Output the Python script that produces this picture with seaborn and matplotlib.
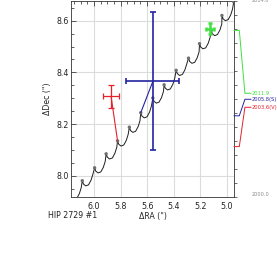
import numpy as np
import pandas as pd
import matplotlib
matplotlib.use("Agg")
import matplotlib.pyplot as plt
import matplotlib.transforms as mtransforms
from matplotlib.ticker import MultipleLocator, FixedLocator
import seaborn as sns

# ---------------- data ----------------
# predicted astrometric track (parallax + proper motion), ΔRA / ΔDec in arcsec
track_ra = [6.151, 6.130, 6.111, 6.097,
            6.089, 6.080, 6.063, 6.042, 6.023, 6.009,
            5.996, 5.987, 5.970, 5.949, 5.930, 5.916,
            5.909, 5.900, 5.883, 5.862, 5.843, 5.829,
            5.823, 5.814, 5.797, 5.776, 5.757, 5.743,
            5.734, 5.725, 5.708, 5.687, 5.668, 5.654,
            5.648, 5.639, 5.622, 5.601, 5.582, 5.568,
            5.557, 5.548, 5.531, 5.510, 5.491, 5.477,
            5.472, 5.463, 5.446, 5.425, 5.406, 5.392,
            5.381, 5.372, 5.355, 5.334, 5.315, 5.301,
            5.288, 5.279, 5.262, 5.241, 5.222, 5.208,
            5.205, 5.196, 5.179, 5.158, 5.139, 5.125,
            5.117, 5.108, 5.091, 5.070, 5.051, 5.037,
            5.036, 5.027, 5.010, 4.989, 4.970, 4.956,
            4.947, 4.938]
track_dec = [7.909, 7.913, 7.931, 7.954,
             7.981, 7.968, 7.961, 7.965, 7.983, 8.006,
             8.031, 8.018, 8.011, 8.015, 8.033, 8.056,
             8.085, 8.072, 8.065, 8.069, 8.087, 8.110,
             8.135, 8.122, 8.115, 8.119, 8.137, 8.160,
             8.188, 8.175, 8.168, 8.172, 8.190, 8.213,
             8.244, 8.231, 8.224, 8.228, 8.246, 8.269,
             8.301, 8.288, 8.281, 8.285, 8.303, 8.326,
             8.352, 8.339, 8.332, 8.336, 8.354, 8.377,
             8.408, 8.395, 8.388, 8.392, 8.410, 8.433,
             8.455, 8.442, 8.435, 8.439, 8.457, 8.480,
             8.511, 8.498, 8.491, 8.495, 8.513, 8.536,
             8.562, 8.549, 8.542, 8.546, 8.564, 8.587,
             8.620, 8.607, 8.600, 8.604, 8.622, 8.645,
             8.673, 8.660]

# yearly marks on the track
mark_ra = [6.089, 5.996, 5.909, 5.823, 5.734, 5.648, 5.557, 5.472,
           5.381, 5.288, 5.205, 5.117, 5.036, 4.947]
mark_dec = [7.981, 8.031, 8.085, 8.135, 8.188, 8.244, 8.301, 8.352,
            8.408, 8.455, 8.511, 8.562, 8.620, 8.673]

# measurements
epochs = [2003.6, 2005.8, 2011.9]
epoch_labels = ["2003.6(V)", "2005.8(S)", "2011.9"]
meas_ra = [5.872, 5.557, 5.125]
meas_dec = [8.308, 8.365, 8.569]
meas_ra_err = [0.060, 0.201, 0.030]
meas_dec_err = [0.044, 0.267, 0.020]
# predicted positions at the measurement epochs
model_ra = [5.823, 5.648, 5.117]
model_dec = [8.135, 8.244, 8.562]

x_ticks = [6.0, 5.8, 5.6, 5.4, 5.2, 5.0]
y_ticks = [8.0, 8.2, 8.4, 8.6]
time_range = [2000.0, 2014.0]

# ---------------- style ----------------
colors = ["#e3222c", "#2424a2", "#3fe03f"]
elw = [0.9, 1.2, 1.8]
caps = [2.2, 2.4, 1.5]
label_years = [2006.41, 2006.98, 2007.41]   # label placement on time scale

sns.set_style("white")
plt.rcParams["font.family"] = ["DejaVu Sans"]

W, H = 277, 261
fig = plt.figure(figsize=(W / 100, H / 100), dpi=100)
ax = fig.add_axes([71 / W, 1 - 197 / H, 163 / W, 196 / H])
ax.set_facecolor("white")

# grid
ax.set_xlim(6.174, 4.945)
ax.set_ylim(7.918, 8.676)
ax.xaxis.set_major_locator(FixedLocator(x_ticks))
ax.yaxis.set_major_locator(FixedLocator(y_ticks))
ax.xaxis.set_minor_locator(MultipleLocator(0.05))
ax.yaxis.set_minor_locator(MultipleLocator(0.05))
ax.set_xticklabels([f"{v:.1f}" for v in x_ticks])
ax.set_yticklabels([f"{v:.1f}" for v in y_ticks])
ax.grid(True, which="major", color="#dcdcdc", lw=0.8)
ax.set_axisbelow(True)

# track
df_track = pd.DataFrame({"ra": track_ra, "dec": track_dec})
sns.lineplot(data=df_track, x="ra", y="dec", sort=False, estimator=None,
             color="#1e1e1e", lw=0.7, ax=ax, zorder=3)
df_marks = pd.DataFrame({"ra": mark_ra, "dec": mark_dec})
sns.scatterplot(data=df_marks, x="ra", y="dec", color="#707070", s=6,
                edgecolor="none", ax=ax, zorder=4)

# measurement -> model connectors and error bars
for i in range(len(epochs)):
    ax.plot([meas_ra[i], model_ra[i]], [meas_dec[i], model_dec[i]],
            color=colors[i], lw=0.8, zorder=5)
    ax.errorbar(meas_ra[i], meas_dec[i], xerr=meas_ra_err[i],
                yerr=meas_dec_err[i], fmt="none", ecolor=colors[i],
                elinewidth=elw[i], capsize=caps[i], capthick=elw[i],
                zorder=6)

ax.set_xlabel("")
ax.set_ylabel("")
ax.tick_params(which="both", direction="in", top=True, right=False,
               width=0.5, colors="#222222", labelsize=5.7)
ax.tick_params(which="major", length=3.5)
ax.tick_params(which="minor", length=1.8)
ax.tick_params(axis="x", pad=3.5)
ax.tick_params(axis="y", pad=1.8)
for sp in ax.spines.values():
    sp.set_color("#333333")
    sp.set_linewidth(0.6)

ax.set_xlabel('ΔRA (")', fontsize=5.7)
ax.xaxis.set_label_coords(0.5, -0.097)
ax.xaxis.label.set_verticalalignment("center")
ax.set_ylabel('ΔDec (")', fontsize=5.7)
ax.yaxis.set_label_coords(-0.147, 0.5)
ax.yaxis.label.set_verticalalignment("center")

fig.text(48 / W, 1 - 215 / H, "HIP 2729 #1", fontsize=5.7, va="center",
         ha="left", color="#222222")

# time scale on the right
ax2 = ax.twinx()
ax2.set_ylim(*time_range)
ax2.yaxis.set_major_locator(MultipleLocator(1))
ax2.tick_params(axis="y", direction="out", length=2.5, width=0.5,
                labelright=False, colors="#333333")
for sp in ax2.spines.values():
    sp.set_visible(False)
ax2.grid(False)

trans = mtransforms.blended_transform_factory(ax2.transAxes, ax2.transData)
ax2.text(1.108, time_range[1], f"{time_range[1]:.1f}", transform=trans,
         fontsize=3.6, color="#8a8a8a", va="center", ha="left", clip_on=False)
ax2.text(1.108, time_range[0] + 0.15, f"{time_range[0]:.1f}", transform=trans,
         fontsize=3.6, color="#8a8a8a", va="center", ha="left", clip_on=False)
for i in range(len(epochs)):
    ax2.plot([1.0, 1.0325, 1.067, 1.105],
             [epochs[i], epochs[i], label_years[i], label_years[i]],
             transform=trans, color=colors[i], lw=0.7, clip_on=False)
    ax2.text(1.108, label_years[i], epoch_labels[i], transform=trans,
             fontsize=3.7, color=colors[i], va="center", ha="left",
             clip_on=False)

fig.savefig("out.png", dpi=100, facecolor="white")
